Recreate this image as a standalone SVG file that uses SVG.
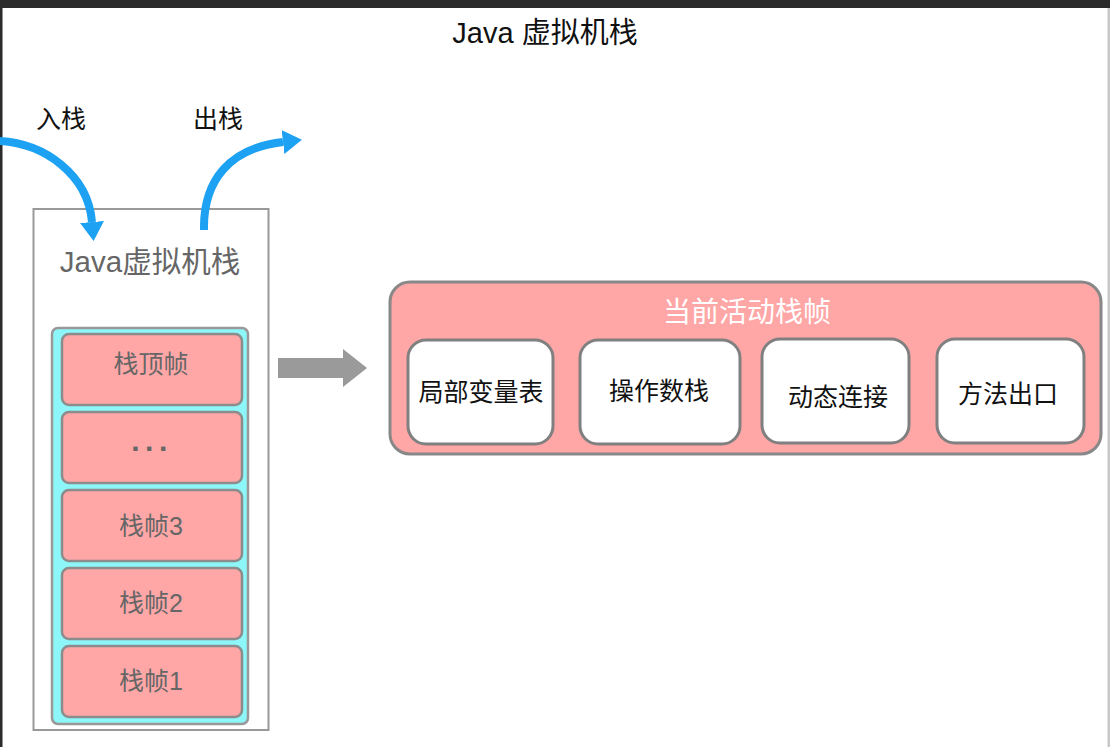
<svg xmlns="http://www.w3.org/2000/svg" width="1110" height="747" viewBox="0 0 1110 747">
<defs>
<style>
text{font-family:"Liberation Sans","Noto Sans CJK SC",sans-serif;text-anchor:middle}
.frame{fill:#FFA6A6;stroke:#8c8c8c;stroke-width:2.5}
.ft{font-size:25px;fill:#666}
.wb{fill:#fff;stroke:#808080;stroke-width:3}
.wt{font-size:25px;fill:#111}
.blue{fill:none;stroke:#1DA1F2;stroke-width:8}
</style>
<marker id="bh" markerUnits="userSpaceOnUse" markerWidth="20" markerHeight="24" refX="0" refY="12" orient="auto">
<path d="M0,0 L19,12 L0,24 z" fill="#1DA1F2"/>
</marker>
</defs>
<rect x="0" y="0" width="1110" height="747" fill="#fff"/>
<rect x="0" y="0" width="1110" height="8" fill="#2b2b2b"/>
<rect x="0" y="0" width="2.5" height="747" fill="#2b2b2b"/>
<rect x="1107.5" y="8" width="2.5" height="739" fill="#c8c8c8"/>

<g id="title"><text x="545" y="43" style="font-size:29px;fill:#111">Java 虚拟机栈</text></g>

<g id="labels">
<text x="61" y="128" style="font-size:25px;fill:#111">入栈</text>
<text x="218" y="128" style="font-size:25px;fill:#111">出栈</text>
</g>

<g id="jvm-stack">
<rect x="33.5" y="209" width="235" height="521" fill="#fff" stroke="#999" stroke-width="2"/>
<text x="150" y="272" style="font-size:29.5px;fill:#666">Java虚拟机栈</text>
<rect x="52" y="328" width="196" height="396" rx="6" fill="#8CF6F8" stroke="#999" stroke-width="2.5"/>
</g>
<g id="frame-top"><rect class="frame" x="62" y="334" width="180" height="71" rx="7"/><text class="ft" x="151" y="373">栈顶帧</text></g>
<g id="frame-dots"><rect class="frame" x="62" y="412" width="180" height="71" rx="7"/><text x="152" y="451" style="font-size:30px;font-weight:bold;fill:#666;letter-spacing:5.5px">...</text></g>
<g id="frame-3"><rect class="frame" x="62" y="490" width="180" height="71" rx="7"/><text class="ft" x="151" y="535">栈帧3</text></g>
<g id="frame-2"><rect class="frame" x="62" y="568" width="180" height="71" rx="7"/><text class="ft" x="151" y="612">栈帧2</text></g>
<g id="frame-1"><rect class="frame" x="62" y="646" width="180" height="71" rx="7"/><text class="ft" x="151" y="690">栈帧1</text></g>

<g id="current-frame">
<rect x="390" y="282" width="711" height="172" rx="20" fill="#FFA6A6" stroke="#888" stroke-width="3"/>
<text x="747" y="322" style="font-size:28px;fill:#fff">当前活动栈帧</text>
</g>
<g id="local-vars"><rect class="wb" x="408" y="340" width="145" height="104" rx="18"/><text class="wt" x="481" y="401">局部变量表</text></g>
<g id="operand-stack"><rect class="wb" x="580" y="340" width="160" height="104" rx="18"/><text class="wt" x="659" y="400">操作数栈</text></g>
<g id="dynamic-link"><rect class="wb" x="762" y="339" width="147" height="104" rx="18"/><text class="wt" x="838" y="406">动态连接</text></g>
<g id="method-exit"><rect class="wb" x="937" y="339" width="147" height="104" rx="18"/><text class="wt" x="1008" y="403">方法出口</text></g>

<g id="connectors">
<path class="blue" d="M -2 141 C 45 143, 88 175, 92 222" marker-end="url(#bh)"/>
<path class="blue" d="M 204 230 C 203 180, 230 148, 283 142" marker-end="url(#bh)"/>
<polygon points="278,358 343,358 343,349 367,368 343,387 343,378 278,378" fill="#9a9a9a"/>
</g>
</svg>
